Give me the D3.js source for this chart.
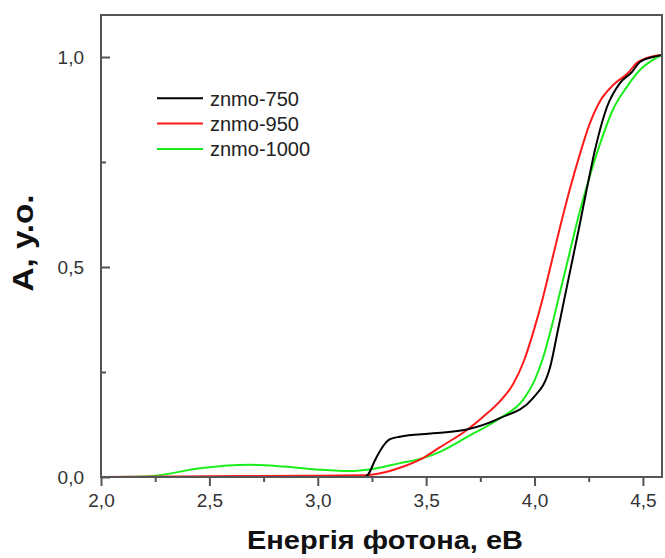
<!DOCTYPE html>
<html>
<head>
<meta charset="utf-8">
<script src="https://cdn.jsdelivr.net/npm/d3@7"></script>
<style>
  body { margin: 0; background: #fff; }
  svg { font-family: "Liberation Sans", Arial, sans-serif; }
</style>
</head>
<body>
<svg width="665" height="558"></svg>
<script>
// energy (eV) / absorbance pairs
var x750 = [2.0, 3.0, 3.218, 3.235, 3.264, 3.287, 3.333, 3.379, 3.531, 3.688, 3.84, 3.993, 4.071, 4.108, 4.14, 4.172, 4.208, 4.24, 4.279, 4.334, 4.394, 4.449, 4.486, 4.546, 4.588];
var y750 = [0.0, 0.0, 0.0, 0.008, 0.04, 0.062, 0.09, 0.096, 0.104, 0.113, 0.14, 0.188, 0.26, 0.35, 0.43, 0.51, 0.6, 0.683, 0.779, 0.881, 0.938, 0.964, 0.988, 1.0, 1.005];

var x950 = [2.0, 2.5, 3.0, 3.22, 3.3, 3.379, 3.485, 3.564, 3.688, 3.762, 3.84, 3.9, 3.95, 4.0, 4.04, 4.08, 4.12, 4.16, 4.21, 4.25, 4.3, 4.362, 4.431, 4.472, 4.518, 4.578];
var y950 = [0.0, 0.002, 0.003, 0.004, 0.01, 0.022, 0.045, 0.071, 0.112, 0.143, 0.18, 0.22, 0.275, 0.355, 0.43, 0.515, 0.6, 0.68, 0.77, 0.835, 0.893, 0.933, 0.962, 0.986, 0.998, 1.005];

var x1000 = [2.0, 2.226, 2.457, 2.687, 2.84, 2.996, 3.149, 3.227, 3.379, 3.485, 3.564, 3.688, 3.84, 3.946, 4.0, 4.04, 4.08, 4.12, 4.16, 4.2, 4.24, 4.3, 4.362, 4.426, 4.486, 4.546, 4.588];
var y1000 = [0.0, 0.002, 0.021, 0.029, 0.025, 0.018, 0.014, 0.017, 0.033, 0.045, 0.06, 0.095, 0.14, 0.183, 0.23, 0.285, 0.36, 0.445, 0.53, 0.615, 0.69, 0.79, 0.875, 0.929, 0.969, 0.993, 1.005];

var names = ["znmo-750", "znmo-950", "znmo-1000"];
var colors = ["#000000", "#ff1a1a", "#1aee1a"];

var xMajor = [2.0, 2.5, 3.0, 3.5, 4.0, 4.5];
var xMinor = [2.25, 2.75, 3.25, 3.75, 4.25];
var yMajor = [0.0, 0.5, 1.0];
var yMinor = [0.25, 0.75];

var svg = d3.select("svg"),
    width = +svg.attr("width"),
    height = +svg.attr("height");

var margin = {top: 15, right: 3, bottom: 81, left: 101},
    w = width - margin.left - margin.right,
    h = height - margin.top - margin.bottom;

var x = d3.scaleLinear().domain([2.0, 4.588]).range([0, w]);
var y = d3.scaleLinear().domain([0, 1.1]).range([h, 0]);

var comma = function(d) { return d3.format(".1f")(d).replace(".", ","); };

var g = svg.append("g")
    .attr("transform", "translate(" + margin.left + "," + margin.top + ")");

var series = [
  d3.zip(x750, y750),
  d3.zip(x950, y950),
  d3.zip(x1000, y1000)
];

var line = d3.line()
    .x(function(d) { return x(d[0]); })
    .y(function(d) { return y(d[1]); })
    .curve(d3.curveMonotoneX);

// draw green first, black on top like the original
[2, 1, 0].forEach(function(i) {
  g.append("path")
    .datum(series[i])
    .attr("fill", "none")
    .attr("stroke", colors[i])
    .attr("stroke-width", 2)
    .attr("d", line);
});

// frame
g.append("rect")
    .attr("width", w)
    .attr("height", h)
    .attr("fill", "none")
    .attr("stroke", "#555")
    .attr("stroke-width", 2);

// x axis, ticks pointing out
var xAxis = g.append("g").attr("transform", "translate(0," + h + ")");
xAxis.call(d3.axisBottom(x).tickValues(xMajor).tickSize(9).tickFormat(comma));
xAxis.append("g").call(d3.axisBottom(x).tickValues(xMinor).tickSize(5).tickFormat(""));
xAxis.selectAll(".domain").remove();
xAxis.selectAll("line").attr("stroke", "#555").attr("stroke-width", 2);
xAxis.selectAll("text")
    .attr("dy", "0.95em")
    .attr("fill", "#333")
    .style("font-size", "19px");

// y axis, ticks pointing in
var yAxis = g.append("g");
yAxis.call(d3.axisLeft(y).tickValues(yMajor).tickSize(-9).tickPadding(17).tickFormat(comma));
yAxis.append("g").call(d3.axisLeft(y).tickValues(yMinor).tickSize(-5).tickFormat(""));
yAxis.selectAll(".domain").remove();
yAxis.selectAll("line").attr("stroke", "#555").attr("stroke-width", 2);
yAxis.selectAll("text")
    .attr("fill", "#333")
    .style("font-size", "19px");

// axis titles
svg.append("text")
    .attr("x", 385)
    .attr("y", 549)
    .attr("text-anchor", "middle")
    .attr("textLength", 276)
    .attr("lengthAdjust", "spacingAndGlyphs")
    .style("font-size", "25px")
    .style("font-weight", "bold")
    .attr("fill", "#111")
    .text("Енергія фотона, eB");

svg.append("text")
    .attr("transform", "translate(33,243) rotate(-90)")
    .attr("text-anchor", "middle")
    .attr("textLength", 97)
    .attr("lengthAdjust", "spacingAndGlyphs")
    .style("font-size", "30px")
    .style("font-weight", "bold")
    .attr("fill", "#111")
    .text("A, у.о.");

// legend
var legend = svg.selectAll(".legend")
    .data(names)
    .enter().append("g")
    .attr("class", "legend")
    .attr("transform", function(d, i) { return "translate(157," + (98.3 + i * 25.3) + ")"; });

legend.append("line")
    .attr("x1", 0).attr("x2", 46)
    .attr("stroke", function(d, i) { return colors[i]; })
    .attr("stroke-width", 2);

legend.append("text")
    .attr("x", 53)
    .attr("dy", "0.36em")
    .style("font-size", "20px")
    .attr("fill", "#222")
    .text(function(d) { return d; });
</script>
</body>
</html>
